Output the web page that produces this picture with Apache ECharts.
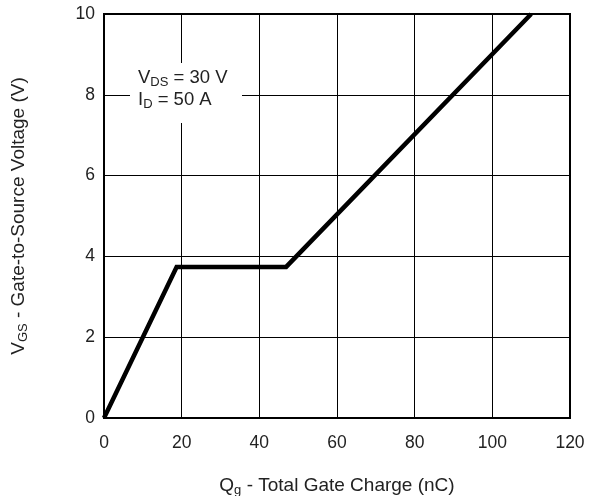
<!DOCTYPE html>
<html>
<head>
<meta charset="utf-8">
<script src="https://cdn.jsdelivr.net/npm/echarts@6/dist/echarts.min.js"></script>
<style>html,body{margin:0;padding:0;background:#fff}#c{width:597px;height:496px}</style>
</head>
<body>
<div id="c"></div>
<script>
const chargeNC = [0, 18.7, 46.9, 110];
const gateVoltage = [0, 3.74, 3.74, 10];
const xTicks = [0, 20, 40, 60, 80, 100, 120];
const yTicks = [0, 2, 4, 6, 8, 10];

const FONT = 'Liberation Sans, Arial, Helvetica, sans-serif';
const chart = echarts.init(document.getElementById('c'));
const data = chargeNC.map((x, i) => [x, gateVoltage[i]]);

chart.setOption({
  animation: false,
  backgroundColor: '#fff',
  grid: { left: 104, right: 27, top: 14, bottom: 78, outerBoundsMode: 'none', containLabel: false, show: true, borderColor: '#000', borderWidth: 2, backgroundColor: 'transparent' },
  xAxis: {
    type: 'value', min: xTicks[0], max: xTicks[xTicks.length-1], interval: 20,
    axisLine: { show: false }, axisTick: { show: false },
    axisLabel: { color: '#222', fontSize: 17.5, fontFamily: FONT, margin: 16 },
    splitLine: { show: true, lineStyle: { color: '#000', width: 1 } },
    name: '{m|Q}{s|g}{m| - Total Gate Charge (nC)}',
    nameLocation: 'middle', nameGap: 57,
    nameTextStyle: {
      rich: {
        m: { fontSize: 19, fontFamily: FONT, color: '#222' },
        s: { fontSize: 13, fontFamily: FONT, color: '#222', padding: [9, 0, 0, 0] }
      }
    }
  },
  yAxis: {
    type: 'value', min: yTicks[0], max: yTicks[yTicks.length-1], interval: 2,
    axisLine: { show: false }, axisTick: { show: false },
    axisLabel: { color: '#222', fontSize: 17.5, fontFamily: FONT, margin: 9 },
    splitLine: { show: true, lineStyle: { color: '#000', width: 1 } },
    name: '{m|V}{s|GS}{m| - Gate-to-Source Voltage (V)}',
    nameLocation: 'middle', nameRotate: 90, nameGap: 74,
    nameTextStyle: {
      rich: {
        m: { fontSize: 19, fontFamily: FONT, color: '#222' },
        s: { fontSize: 13, fontFamily: FONT, color: '#222', padding: [9, 0, 0, 0] }
      }
    }
  },
  series: [{
    type: 'line', data: data, symbol: 'none', clip: true,
    lineStyle: { color: '#000', width: 4.5, join: 'miter' }
  }],
  graphic: [{
    type: 'rect', left: 130, top: 63, shape: { width: 112, height: 60 }, style: { fill: '#fff' }, z: 100
  }, {
    type: 'text', left: 138, top: 67, z: 101,
    style: {
      text: '{m|V}{s|DS}{m| = 30 V}\n{m|I}{s|D}{m| = 50 A}',
      rich: {
        m: { fontSize: 18.5, fontFamily: FONT, fill: '#222', lineHeight: 22 },
        s: { fontSize: 13, fontFamily: FONT, fill: '#222', padding: [9, 0, 0, 0], lineHeight: 22 }
      }
    }
  }]
});
</script>
</body>
</html>
